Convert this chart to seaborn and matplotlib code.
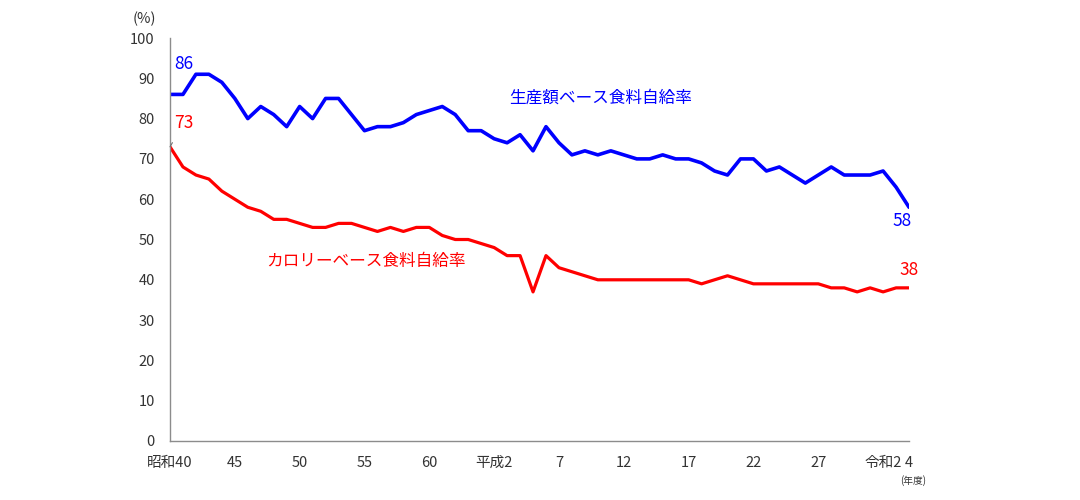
import matplotlib
matplotlib.use("Agg")
import matplotlib.pyplot as plt
import seaborn as sns
import pandas as pd

years = list(range(1965, 2023))
production_based = [86, 86, 91, 91, 89, 85, 80, 83, 81, 78,
                    83, 80, 85, 85, 81, 77, 78, 78, 79, 81,
                    82, 83, 81, 77, 77, 75, 74, 76, 72, 78,
                    74, 71, 72, 71, 72, 71, 70, 70, 71, 70,
                    70, 69, 67, 66, 70, 70, 67, 68, 66, 64,
                    66, 68, 66, 66, 66, 67, 63, 58]
calorie_based = [73, 68, 66, 65, 62, 60, 58, 57, 55, 55,
                 54, 53, 53, 54, 54, 53, 52, 53, 52, 53,
                 53, 51, 50, 50, 49, 48, 46, 46, 37, 46,
                 43, 42, 41, 40, 40, 40, 40, 40, 40, 40,
                 40, 39, 40, 41, 40, 39, 39, 39, 39, 39,
                 39, 38, 38, 37, 38, 37, 38, 38]
series_names = ["生産額ベース食料自給率", "カロリーベース食料自給率"]
tick_years = [1965, 1970, 1975, 1980, 1985, 1990, 1995, 2000, 2005, 2010, 2015, 2020, 2022]
tick_labels = ["昭和40", "45", "50", "55", "60", "平成2", "7", "12", "17", "22", "27", "令和2", "4"]
yticks = list(range(0, 101, 10))

sns.set_theme(style="white")
plt.rcParams['font.family'] = ['Noto Sans CJK JP', 'DejaVu Sans']

df = pd.DataFrame({
    "year": years * 2,
    "value": production_based + calorie_based,
    "series": [series_names[0]] * len(years) + [series_names[1]] * len(years),
})

blue = "#0000FF"
red = "#FF0000"
axis_gray = "#8c8c8c"
text_gray = "#333333"

fig = plt.figure(figsize=(10.8, 5.0), dpi=100)
ax = fig.add_axes([0.1574, 0.118, 0.6843, 0.806])

sns.lineplot(data=df, x="year", y="value", hue="series",
             palette={series_names[0]: blue, series_names[1]: red},
             linewidth=2.6, ax=ax, legend=False)
lines = ax.get_lines()
if len(lines) > 1:
    lines[1].set_linewidth(2.3)

ax.set_xlim(years[0], years[-1])
ax.set_ylim(0, 100)
ax.set_yticks(yticks)
ax.set_yticklabels([str(v) for v in yticks], fontsize=10.5, color=text_gray)
ax.set_xticks(years, minor=True)
ax.set_xticks(tick_years)
ax.set_xticklabels(tick_labels, fontsize=10.5, color=text_gray)
ax.tick_params(axis="x", which="major", length=0, pad=11)
ax.tick_params(axis="x", which="minor", direction="in", length=3, color=axis_gray, width=0.8)
ax.tick_params(axis="y", which="major", direction="out", length=4, color=axis_gray, width=0.8, pad=7)
ax.set_xlabel("")
ax.set_ylabel("")
for s in ["top", "right"]:
    ax.spines[s].set_visible(False)
for s in ["left", "bottom"]:
    ax.spines[s].set_color(axis_gray)
    ax.spines[s].set_linewidth(1.0)

# units
ax.text(-0.035, 1.03, "(%)", transform=ax.transAxes, fontsize=10.5, color=text_gray,
        ha="center", va="bottom")
ax.text(1.006, -0.085, "(年度)", transform=ax.transAxes, fontsize=7, color=text_gray,
        ha="center", va="top")

# value labels
ax.annotate(str(production_based[0]), (years[0], production_based[0]), xytext=(10, 22),
            textcoords="offset points", color=blue, fontsize=12.5, ha="center", va="center")
ax.annotate(str(calorie_based[0]), (years[0], calorie_based[0]), xytext=(10, 17),
            textcoords="offset points", color=red, fontsize=12.5, ha="center", va="center",
            arrowprops=dict(arrowstyle="-", color="#707070", lw=0.8, shrinkA=6, shrinkB=0))
ax.annotate(str(production_based[-1]), (years[-1], production_based[-1]), xytext=(-5, -10),
            textcoords="offset points", color=blue, fontsize=12.5, ha="center", va="center")
ax.annotate(str(calorie_based[-1]), (years[-1], calorie_based[-1]), xytext=(0, 13),
            textcoords="offset points", color=red, fontsize=12.5, ha="center", va="center")

# series labels
ax.text(0.583, 0.85, series_names[0], transform=ax.transAxes, color=blue,
        fontsize=12, ha="center", va="center")
ax.text(0.265, 0.445, series_names[1], transform=ax.transAxes, color=red,
        fontsize=12, ha="center", va="center")

fig.savefig("out.png", dpi=100, facecolor="white")
